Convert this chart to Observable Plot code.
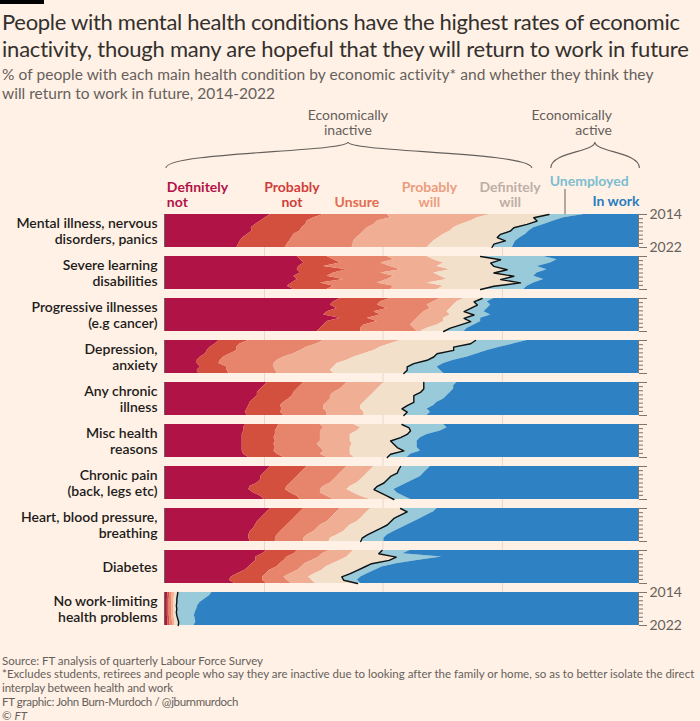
<!DOCTYPE html>
<html>
<head>
<meta charset="utf-8">
<script src="https://cdn.jsdelivr.net/npm/d3@7"></script>
<script src="https://cdn.jsdelivr.net/npm/@observablehq/plot@0.6"></script>
<style>
  html, body { margin: 0; padding: 0; background: #fff1e5; }
  body { width: 700px; height: 721px; position: relative; overflow: hidden; font-family: Lato, "Noto Sans", sans-serif; }
  .bar { position: absolute; left: 0; top: 0; width: 44px; height: 4px; background: #000; }
  .block { position: absolute; left: 2px; white-space: nowrap; }
  .block span { display: inline-block; }
  #title { top: 8px; font-size: 22px; line-height: 27px; color: #33302e; }
  #subtitle { top: 64.5px; font-size: 15.5px; line-height: 19px; color: #66605c; }
  #footer { top: 653.5px; font-size: 11.5px; line-height: 13.8px; color: #66605c; }
  #chart { position: absolute; left: 0; top: 100px; }
  #chart svg { overflow: visible; }
</style>
</head>
<body>
<div class="bar"></div>
<div id="title" class="block">
  <div><span data-w="678">People with mental health conditions have the highest rates of economic</span></div>
  <div><span data-w="687">inactivity, though many are hopeful that they will return to work in future</span></div>
</div>
<div id="subtitle" class="block">
  <div><span data-w="652">% of people with each main health condition by economic activity* and whether they think they</span></div>
  <div><span data-w="273">will return to work in future, 2014-2022</span></div>
</div>
<div id="chart"></div>
<div id="footer" class="block">
  <div><span data-w="261">Source: FT analysis of quarterly Labour Force Survey</span></div>
  <div><span data-w="692">*Excludes students, retirees and people who say they are inactive due to looking after the family or home, so as to better isolate the direct</span></div>
  <div><span data-w="171">interplay between health and work</span></div>
  <div><span data-w="236">FT graphic: John Burn-Murdoch / @jburnmurdoch</span></div>
  <div><span data-w="25">© <i>FT</i></span></div>
</div>
<script>
// ---------------- DATA ----------------
const categories = [
  "Mental illness, nervous disorders, panics",
  "Severe learning disabilities",
  "Progressive illnesses (e.g cancer)",
  "Depression, anxiety",
  "Any chronic illness",
  "Misc health reasons",
  "Chronic pain (back, legs etc)",
  "Heart, blood pressure, breathing",
  "Diabetes",
  "No work-limiting health problems"
];
const categoryLabels = [
  "Mental illness, nervous\ndisorders, panics",
  "Severe learning\ndisabilities",
  "Progressive illnesses\n(e.g cancer)",
  "Depression,\nanxiety",
  "Any chronic\nillness",
  "Misc health\nreasons",
  "Chronic pain\n(back, legs etc)",
  "Heart, blood pressure,\nbreathing",
  "Diabetes",
  "No work-limiting\nhealth problems"
];
const statuses = ["Definitely not", "Probably not", "Unsure", "Probably will", "Definitely will", "Unemployed", "In work"];
const statusColors = ["#b01446", "#d4503e", "#e6856b", "#f0ae95", "#f3e0cb", "#98cad9", "#2e82c3"];
const years = [2014, 2014.8, 2015.6, 2016.4, 2017.2, 2018, 2018.8, 2019.6, 2020.4, 2021.2, 2022];

// cumulative share (%) up to and including each status, one row per category
const definitelyNot = [
  [22.4, 21.3, 20.3, 19.2, 18.3, 18.5, 17.6, 16.6, 16.0, 15.6, 15.3],
  [28.0, 28.7, 29.4, 28.3, 28.0, 28.7, 27.3, 28.0, 26.9, 25.9, 27.3],
  [37.1, 35.7, 35.0, 36.4, 34.3, 33.6, 37.1, 34.3, 33.6, 32.9, 32.2],
  [11.5, 10.8, 9.7, 9.0, 8.7, 7.6, 6.9, 6.9, 7.6, 6.9, 7.2],
  [21.7, 21.0, 20.3, 19.6, 19.6, 18.8, 18.1, 17.8, 17.4, 17.1, 17.4],
  [17.1, 16.7, 16.7, 16.4, 16.4, 16.4, 16.4, 16.4, 16.4, 16.7, 17.8],
  [22.4, 21.7, 21.0, 20.3, 20.3, 19.6, 18.1, 17.8, 18.8, 20.3, 21.0],
  [22.4, 21.7, 21.0, 20.3, 19.6, 19.2, 18.8, 18.1, 17.8, 17.8, 18.1],
  [21.5, 20.7, 19.3, 19.3, 18.5, 17.8, 17.0, 15.5, 14.1, 13.7, 14.8],
  [0.7, 0.7, 0.6, 0.6, 0.6, 0.6, 0.6, 0.6, 0.7, 0.7, 0.7]
];
const probablyNot = [
  [33.6, 31.5, 30.1, 29.8, 29.0, 28.6, 27.3, 26.9, 26.4, 25.9, 25.5],
  [34.3, 35.7, 37.1, 33.6, 38.5, 35.7, 34.3, 37.8, 32.9, 35.7, 34.3],
  [47.7, 45.6, 44.9, 47.0, 44.2, 45.6, 42.8, 44.9, 42.1, 41.4, 41.4],
  [17.8, 16.0, 15.3, 15.3, 13.9, 12.5, 11.8, 11.5, 13.2, 13.2, 13.6],
  [29.4, 28.7, 28.0, 27.3, 27.0, 26.2, 25.2, 24.5, 24.8, 24.5, 25.2],
  [24.1, 23.8, 23.4, 23.4, 23.1, 23.4, 23.1, 23.4, 23.1, 23.8, 25.2],
  [30.1, 29.4, 28.7, 28.0, 27.3, 26.6, 25.9, 25.5, 26.6, 28.0, 28.7],
  [29.4, 28.7, 28.0, 27.3, 26.6, 25.9, 25.2, 24.5, 23.8, 23.4, 23.4],
  [28.1, 27.4, 25.9, 25.2, 24.4, 23.7, 22.2, 21.5, 20.7, 20.7, 21.5],
  [1.1, 1.1, 1.0, 1.0, 1.0, 1.0, 1.0, 1.0, 1.1, 1.1, 1.1]
];
const unsure = [
  [47.0, 47.7, 44.9, 44.2, 42.8, 42.1, 41.4, 40.6, 39.9, 39.8, 39.6],
  [47.0, 48.4, 45.6, 47.7, 49.8, 45.6, 48.4, 47.0, 44.9, 48.4, 47.7],
  [58.2, 56.8, 55.4, 56.1, 54.7, 54.0, 53.3, 52.6, 51.9, 52.6, 53.3],
  [33.6, 32.2, 30.1, 28.7, 27.3, 25.2, 23.8, 23.1, 23.1, 23.4, 23.8],
  [38.5, 37.8, 37.1, 35.7, 35.0, 35.0, 34.3, 33.6, 33.6, 34.3, 34.3],
  [32.9, 33.6, 32.9, 32.9, 32.9, 32.9, 32.2, 32.9, 33.6, 32.9, 34.3],
  [38.5, 37.8, 37.1, 36.4, 35.7, 35.0, 33.6, 32.9, 32.9, 34.3, 35.7],
  [37.1, 36.4, 35.7, 35.0, 34.3, 32.9, 32.2, 31.5, 30.1, 29.4, 29.4],
  [34.8, 33.3, 32.6, 31.1, 29.6, 28.9, 28.1, 26.7, 25.2, 25.9, 26.7],
  [1.6, 1.6, 1.5, 1.5, 1.5, 1.5, 1.5, 1.5, 1.6, 1.7, 1.7]
];
const probablyWill = [
  [68.8, 66.0, 64.6, 62.5, 61.0, 60.3, 58.9, 57.9, 56.8, 56.1, 55.4],
  [55.4, 56.8, 58.9, 57.5, 60.3, 56.8, 58.2, 59.6, 55.4, 58.9, 57.5],
  [63.2, 61.7, 61.0, 60.3, 59.6, 60.3, 58.9, 58.9, 57.5, 55.4, 54.0],
  [49.8, 47.7, 45.6, 44.2, 42.1, 40.0, 38.5, 36.4, 35.7, 35.0, 35.7],
  [46.3, 45.6, 44.9, 44.2, 43.5, 42.8, 42.1, 41.4, 41.4, 42.1, 42.1],
  [40.0, 41.4, 40.6, 39.2, 39.2, 39.2, 39.6, 39.2, 39.2, 39.2, 40.0],
  [44.2, 43.5, 42.8, 42.1, 41.4, 40.6, 39.2, 38.5, 39.9, 41.4, 43.5],
  [43.5, 42.8, 42.1, 41.4, 40.6, 39.2, 38.5, 37.8, 36.4, 35.0, 34.7],
  [39.9, 39.2, 38.5, 37.0, 35.5, 34.0, 33.3, 31.8, 30.4, 31.1, 31.8],
  [2.1, 2.1, 2.0, 2.0, 2.0, 2.0, 2.0, 2.0, 2.1, 2.2, 2.2]
];
const definitelyWill = [
  [81.1, 77.9, 78.6, 76.5, 73.7, 73.0, 70.9, 70.2, 71.9, 69.5, 69.1],
  [66.7, 70.9, 68.8, 69.5, 72.3, 69.5, 73.7, 70.9, 75.1, 69.5, 66.7],
  [67.0, 65.3, 66.0, 64.6, 63.2, 65.3, 63.2, 64.6, 62.5, 60.3, 58.9],
  [65.6, 64.6, 61.0, 61.0, 57.5, 56.8, 55.4, 52.6, 51.2, 51.2, 50.5],
  [54.7, 54.7, 54.7, 54.0, 52.6, 52.6, 52.6, 51.2, 50.1, 51.2, 50.5],
  [50.1, 51.6, 51.9, 51.2, 49.8, 47.7, 48.4, 49.1, 50.5, 47.7, 47.0],
  [49.8, 49.4, 49.1, 47.7, 47.0, 46.3, 44.9, 44.2, 45.6, 47.0, 48.4],
  [49.8, 51.2, 49.8, 48.4, 47.7, 47.0, 45.6, 44.2, 42.8, 41.7, 41.4],
  [45.9, 45.2, 48.9, 47.4, 43.7, 42.2, 40.7, 39.2, 37.4, 37.8, 40.7],
  [2.8, 2.7, 2.6, 2.6, 2.5, 2.6, 2.5, 2.6, 2.8, 3.0, 2.9]
];
const unemployed = [
  [88.5, 84.2, 82.1, 80.0, 77.9, 76.9, 76.2, 75.1, 74.1, 73.7, 73.4],
  [80.0, 82.8, 81.4, 78.6, 80.7, 78.6, 77.9, 80.0, 77.9, 76.5, 75.8],
  [69.5, 68.1, 68.8, 68.1, 67.4, 68.8, 66.7, 66.7, 65.3, 63.9, 63.2],
  [76.5, 73.7, 70.9, 68.1, 66.0, 63.9, 61.0, 58.9, 57.5, 58.2, 58.9],
  [61.7, 61.0, 61.0, 60.3, 59.6, 58.9, 57.5, 56.8, 55.4, 56.1, 55.4],
  [58.9, 59.6, 58.2, 55.4, 54.0, 53.3, 53.3, 53.3, 54.0, 51.9, 51.2],
  [56.1, 55.4, 54.7, 54.0, 52.6, 51.2, 49.8, 48.4, 49.1, 50.5, 51.9],
  [57.5, 56.8, 55.4, 54.0, 52.6, 51.2, 49.8, 48.4, 47.0, 46.3, 46.3],
  [51.8, 50.3, 58.5, 53.3, 48.9, 45.9, 44.4, 42.9, 41.4, 40.7, 41.4],
  [10.0, 9.5, 8.5, 7.5, 7.0, 6.8, 6.5, 6.3, 6.5, 6.6, 6.2]
];
const yearTicks = [2014, 2015, 2016, 2017, 2018, 2019, 2020, 2021, 2022];
const yearLabels = [2014, 2022];
const gridPct = [21.2, 46.2, 71.4];

// ---------------- LAYOUT (not data) ----------------
const legendLayout = [
  {lines: ["Definitely", "not"], at: 0.6, anchor: "start", color: "#b31247"},
  {lines: ["Probably", "not"], at: 27, anchor: "middle", color: "#d03d3a"},
  {lines: ["Unsure"], at: 40.7, anchor: "middle", color: "#e26c4f", y0: 107},
  {lines: ["Probably", "will"], at: 56, anchor: "middle", color: "#eb9c80"},
  {lines: ["Definitely", "will"], at: 73, anchor: "middle", color: "#bdafa7"},
  {lines: ["Unemployed"], at: 89.7, anchor: "middle", color: "#7dbdd0", y0: 86},
  {lines: ["In work"], at: 100.3, anchor: "end", color: "#2b7cc0", y0: 106}
];

// ---------------- BUILD TABLE ----------------
const edges = [definitelyNot, probablyNot, unsure, probablyWill, definitelyWill, unemployed];
const rows = [];
const inactiveLine = [];
categories.forEach((cat, i) => {
  years.forEach((t, j) => {
    let prev = 0;
    statuses.forEach((status, k) => {
      const edge = k < edges.length ? edges[k][i][j] : 100;
      rows.push({cat, t, status, value: Math.max(0, edge - prev)});
      prev = Math.max(prev, edge);
    });
    inactiveLine.push({cat, t, x: definitelyWill[i][j]});
  });
});
const yearLabelRows = [];
[categories[0], categories[categories.length - 1]].forEach(cat =>
  yearLabels.forEach(t => yearLabelRows.push({cat, t})));

const tickColor = "#7d7570";
const plot = Plot.plot({
  width: 700,
  height: 538,
  marginLeft: 164,
  marginRight: 62,
  marginTop: 112,
  marginBottom: 10,
  style: {background: "transparent", fontFamily: "Lato, 'Noto Sans', sans-serif", overflow: "visible"},
  x: {domain: [0, 100], axis: null},
  y: {domain: [2014, 2022], reverse: true},
  fy: {domain: categories, paddingInner: 9 / 42.5, paddingOuter: 0, axis: null},
  color: {domain: statuses, range: statusColors},
  marks: [
    Plot.areaX(rows, Plot.stackX({y: "t", x: "value", fill: "status", fy: "cat", order: statuses, curve: "linear"})),
    Plot.lineX(inactiveLine, {x: "x", y: "t", fy: "cat", stroke: "#111", strokeWidth: 1.4}),
    Plot.ruleX([0], {stroke: "#6b635e", strokeWidth: 1}),
    Plot.ruleX([100], {stroke: tickColor, strokeWidth: 1}),
    Plot.axisY(yearTicks, {anchor: "right", tickSize: 4, tickFormat: () => "", label: null, stroke: tickColor}),
    Plot.axisY(yearLabels, {anchor: "right", tickSize: 8, tickFormat: () => "", label: null, stroke: tickColor}),
    Plot.text(yearLabelRows, {fy: "cat", y: "t", text: d => String(d.t), frameAnchor: "right", dx: 11, textAnchor: "start", fontSize: 14, fill: "#66605c"}),
    Plot.text(categories, {fy: d => d, text: (d, i) => categoryLabels[i], frameAnchor: "left", dx: -7, textAnchor: "end", lineAnchor: "middle", lineHeight: 1.15, fontSize: 14, fontWeight: 600, fill: "#1d1b1a"})
  ]
});
document.getElementById("chart").appendChild(plot);

// ---------------- ANNOTATIONS via the plot's scales ----------------
const xs = plot.scale("x");
const X = v => xs.apply(v);
const fys = plot.scale("fy");
const svg = d3.select(plot);
const panelTop = fys.apply(categories[0]);
const panelBottom = fys.apply(categories[categories.length - 1]) + fys.bandwidth;

const grid = svg.insert("g", ":first-child");
gridPct.forEach(v => grid.append("line")
  .attr("x1", X(v)).attr("x2", X(v)).attr("y1", panelTop).attr("y2", panelBottom)
  .attr("stroke", "#ead9cb").attr("stroke-width", 1));

const ann = svg.append("g");
function brace(x1, xm, x2, yb, yt, ys) {
  return `M${x1},${yb} C${x1},${ys} ${xm},${ys} ${xm},${yt} C${xm},${ys} ${x2},${ys} ${x2},${yb}`;
}
ann.append("path").attr("d", brace(X(0.4), X(38.8), X(77.6), 68, 42, 52))
  .attr("fill", "none").attr("stroke", "#66605c").attr("stroke-width", 1.1);
ann.append("path").attr("d", brace(X(81.6), X(90.9), X(100.3), 68, 42, 52))
  .attr("fill", "none").attr("stroke", "#66605c").attr("stroke-width", 1.1);

// multi-line text as one <text> with <tspan> lines
function multiText(lines, x, y0, lineStep, anchor, attrs) {
  const t = ann.append("text").attr("x", x).attr("y", y0).attr("text-anchor", anchor);
  Object.entries(attrs).forEach(([k, v]) => t.attr(k, v));
  lines.forEach((s, i) => t.append("tspan").attr("x", x).attr("dy", i === 0 ? 0 : lineStep).text(s));
  return t;
}
const greyAttrs = {"font-size": 14, "fill": "#66605c"};
multiText(["Economically", "inactive"], X(38.8), 19.5, 15.8, "middle", greyAttrs);
multiText(["Economically", "active"], X(94.5), 19.5, 15.8, "end", greyAttrs);

legendLayout.forEach(l => {
  const y0 = l.y0 !== undefined ? l.y0 : 91.5;
  multiText(l.lines, X(l.at), y0, 15.5, l.anchor, {"font-size": 14, "font-weight": 700, "fill": l.color});
});
ann.append("line").attr("x1", X(84.6)).attr("x2", X(84.6)).attr("y1", 89).attr("y2", panelTop)
  .attr("stroke", "#66605c").attr("stroke-width", 1);

// fit HTML text lines to the widths in the reference
document.querySelectorAll("[data-w]").forEach(el => {
  const target = +el.dataset.w;
  const w = el.getBoundingClientRect().width;
  const n = el.textContent.length;
  el.style.letterSpacing = ((target - w) / n) + "px";
});
</script>
</body>
</html>
